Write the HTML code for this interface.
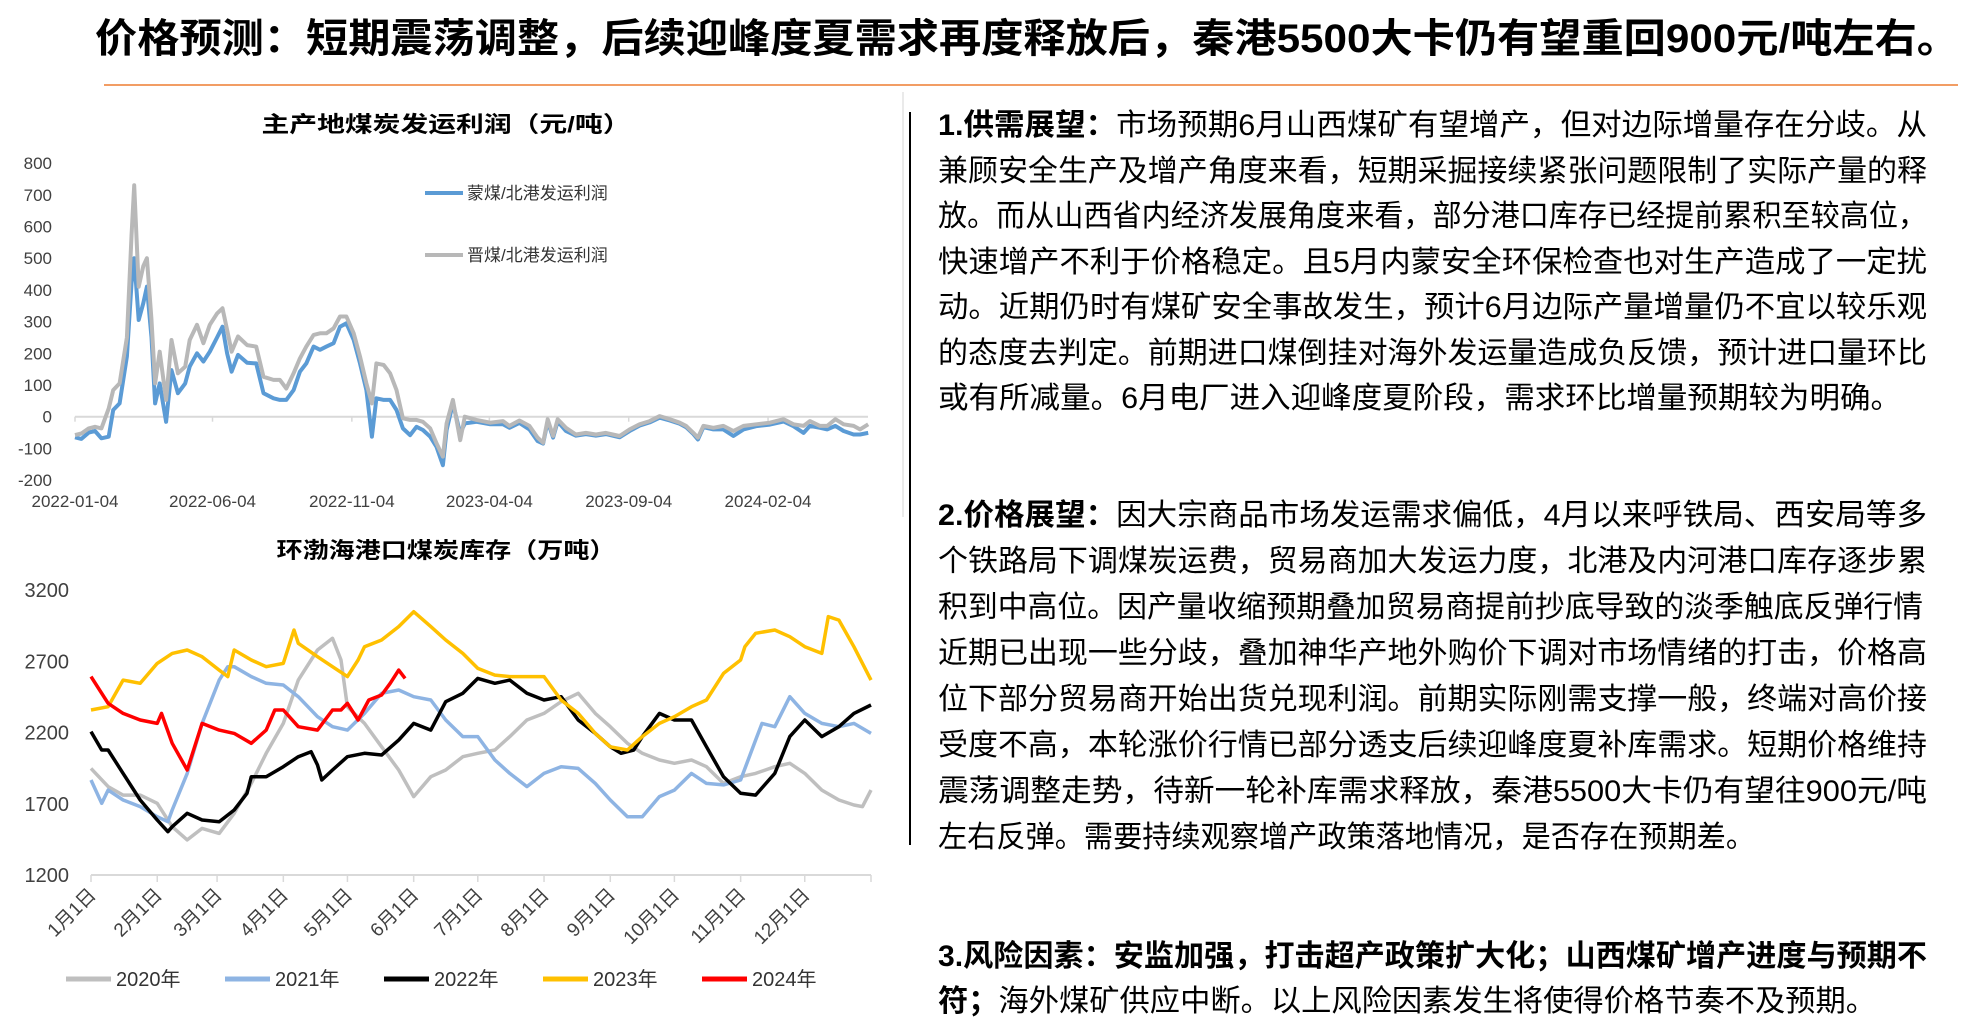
<!DOCTYPE html>
<html><head><meta charset="utf-8"><style>
html,body{margin:0;padding:0;background:#fff;}
svg{display:block;font-family:"Liberation Sans","Noto Sans CJK SC",sans-serif;}
.cn{font-family:"Liberation Sans","Noto Sans CJK SC",sans-serif;}
.nr{font-family:"Liberation Sans Narrow","Liberation Sans","Noto Sans CJK SC",sans-serif;}
</style></head><body>
<svg id="page" width="1971" height="1018" viewBox="0 0 1971 1018">
<text x="95" y="52" font-size="40" font-weight="bold" fill="#000" textLength="1864" lengthAdjust="spacingAndGlyphs">价格预测：短期震荡调整，后续迎峰度夏需求再度释放后，秦港5500大卡仍有望重回900元/吨左右。</text>
<line x1="104" y1="85" x2="1958" y2="85" stroke="#ed7d31" stroke-width="1.5"/>
<line x1="903" y1="92" x2="903" y2="517" stroke="#e3e3e3" stroke-width="1.5"/>
<line x1="910" y1="112" x2="910" y2="845" stroke="#000" stroke-width="2"/>

<g id="top-chart">
<text x="446" y="132" font-size="22" font-weight="bold" text-anchor="middle" textLength="369" lengthAdjust="spacingAndGlyphs">主产地煤炭发运利润（元/吨）</text>
<g id="top-yaxis"></g>
<g id="top-xaxis"></g>
<g id="top-lines"></g>
<g>
<line x1="425" y1="193" x2="463" y2="193" stroke="#5b9bd5" stroke-width="4"/>
<text x="467" y="199" font-size="17" fill="#333">蒙煤/北港发运利润</text>
<line x1="425" y1="255" x2="463" y2="255" stroke="#b8b8b8" stroke-width="4"/>
<text x="467" y="261" font-size="17" fill="#333">晋煤/北港发运利润</text>
</g>
</g>

<g id="bot-chart">
<text x="446" y="558" font-size="22" font-weight="bold" text-anchor="middle" textLength="339" lengthAdjust="spacingAndGlyphs">环渤海港口煤炭库存（万吨）</text>
<g id="bot-yaxis"></g>
<g id="bot-xaxis"></g>
<g id="bot-lines"></g>
<g id="bot-legend"></g>
</g>

<g font-size="30" fill="#000">
<text x="938" y="135" textLength="989" lengthAdjust="spacingAndGlyphs"><tspan font-weight="bold">1.供需展望：</tspan>市场预期6月山西煤矿有望增产，但对边际增量存在分歧。从</text>
<text x="938" y="181" textLength="989" lengthAdjust="spacingAndGlyphs">兼顾安全生产及增产角度来看，短期采掘接续紧张问题限制了实际产量的释</text>
<text x="938" y="226" textLength="989" lengthAdjust="spacingAndGlyphs">放。而从山西省内经济发展角度来看，部分港口库存已经提前累积至较高位，</text>
<text x="938" y="272" textLength="989" lengthAdjust="spacingAndGlyphs">快速增产不利于价格稳定。且5月内蒙安全环保检查也对生产造成了一定扰</text>
<text x="938" y="317" textLength="989" lengthAdjust="spacingAndGlyphs">动。近期仍时有煤矿安全事故发生，预计6月边际产量增量仍不宜以较乐观</text>
<text x="938" y="363" textLength="989" lengthAdjust="spacingAndGlyphs">的态度去判定。前期进口煤倒挂对海外发运量造成负反馈，预计进口量环比</text>
<text x="938" y="408" textLength="963" lengthAdjust="spacingAndGlyphs">或有所减量。6月电厂进入迎峰度夏阶段，需求环比增量预期较为明确。</text>

<text x="938" y="525" textLength="989" lengthAdjust="spacingAndGlyphs"><tspan font-weight="bold">2.价格展望：</tspan>因大宗商品市场发运需求偏低，4月以来呼铁局、西安局等多</text>
<text x="938" y="571" textLength="989" lengthAdjust="spacingAndGlyphs">个铁路局下调煤炭运费，贸易商加大发运力度，北港及内河港口库存逐步累</text>
<text x="938" y="617" textLength="985" lengthAdjust="spacingAndGlyphs">积到中高位。因产量收缩预期叠加贸易商提前抄底导致的淡季触底反弹行情</text>
<text x="938" y="663" textLength="989" lengthAdjust="spacingAndGlyphs">近期已出现一些分歧，叠加神华产地外购价下调对市场情绪的打击，价格高</text>
<text x="938" y="709" textLength="989" lengthAdjust="spacingAndGlyphs">位下部分贸易商开始出货兑现利润。前期实际刚需支撑一般，终端对高价接</text>
<text x="938" y="755" textLength="989" lengthAdjust="spacingAndGlyphs">受度不高，本轮涨价行情已部分透支后续迎峰度夏补库需求。短期价格维持</text>
<text x="938" y="801" textLength="989" lengthAdjust="spacingAndGlyphs">震荡调整走势，待新一轮补库需求释放，秦港5500大卡仍有望往900元/吨</text>
<text x="938" y="847" textLength="817" lengthAdjust="spacingAndGlyphs">左右反弹。需要持续观察增产政策落地情况，是否存在预期差。</text>

<text x="938" y="966" textLength="989" lengthAdjust="spacingAndGlyphs"><tspan font-weight="bold">3.风险因素：安监加强，打击超产政策扩大化；山西煤矿增产进度与预期不</tspan></text>
<text x="938" y="1011" textLength="938" lengthAdjust="spacingAndGlyphs"><tspan font-weight="bold">符；</tspan>海外煤矿供应中断。以上风险因素发生将使得价格节奏不及预期。</text>
</g>
</svg>
<script>
// ---------- Top chart data (days since 2022-01-04) ----------
const profitDays = [0,7,15,22,29,37,42,49,57,62,65,70,75,79,84,88,93,100,106,113,121,126,134,141,148,156,162,167,172,179,189,199,207,218,225,232,240,247,254,262,269,276,284,291,298,306,313,320,326,331,339,346,353,360,368,375,382,390,397,404,408,415,423,428,441,456,470,477,488,499,508,514,519,525,530,539,550,561,572,583,598,609,620,631,642,653,664,671,679,684,690,701,712,723,734,748,763,778,789,800,807,818,826,835,844,855,862,871];
const profitJin = [-58,-53,-37,-32,-37,26,84,105,250,570,730,410,475,500,305,105,205,53,242,137,158,242,290,232,290,326,342,274,205,253,226,221,126,116,116,89,137,184,221,258,263,263,279,316,316,263,190,105,42,168,163,137,84,-5,-10,-10,-16,-37,-84,-126,-21,53,-74,0,-10,-19,-14,-29,-12,-29,-66,-82,-8,-61,-8,-35,-56,-51,-56,-51,-61,-40,-24,-14,2,-8,-19,-29,-51,-66,-29,-35,-29,-45,-29,-24,-19,-8,-24,-29,-14,-29,-29,-8,-24,-29,-40,-24];
const profitMeng = [-65,-70,-50,-45,-68,-63,21,42,190,420,500,305,358,410,250,42,105,-16,147,74,105,158,200,174,205,250,284,200,142,195,170,168,74,58,53,53,84,142,168,221,211,221,232,284,295,242,168,84,-63,58,53,53,21,-37,-58,-32,-42,-63,-95,-153,-42,42,-53,-21,-16,-24,-24,-35,-20,-40,-77,-85,-15,-66,-15,-45,-60,-55,-60,-55,-65,-45,-28,-18,-3,-12,-22,-33,-55,-72,-33,-40,-40,-61,-40,-30,-25,-15,-30,-51,-29,-35,-40,-29,-45,-56,-56,-51];
const profitTicks = [800,700,600,500,400,300,200,100,0,-100,-200];
const profitDateLabels = ["2022-01-04","2022-06-04","2022-11-04","2023-04-04","2023-09-04","2024-02-04"];
const profitDateDays = [0,151,304,455,608,761];

// ---------- Bottom chart data (day of year) ----------
const invTicks = [3200,2700,2200,1700,1200];
const monthLabels = ["1月1日","2月1日","3月1日","4月1日","5月1日","6月1日","7月1日","8月1日","9月1日","10月1日","11月1日","12月1日"];
const monthDays = [0,31,59,90,120,151,181,212,243,273,304,334];
const seriesNames = ["2020年","2021年","2022年","2023年","2024年"];
const d2020 = [0,8,15,23,31,38,45,52,60,67,75,82,90,97,106,113,117,120,128,136,144,151,159,166,174,181,189,196,204,212,220,228,236,243,251,258,266,273,281,288,296,304,311,320,327,334,342,350,357,361,365];
const v2020 = [1948,1820,1761,1761,1703,1539,1446,1527,1492,1633,1843,2054,2264,2568,2779,2861,2709,2381,2264,2100,1937,1750,1890,1937,2030,2054,2077,2171,2288,2334,2416,2475,2334,2241,2124,2054,2007,1984,2007,1960,1843,1890,1913,1960,1984,1913,1796,1726,1691,1680,1796];
const d2021 = [0,5,8,15,23,31,36,38,45,52,60,64,67,75,82,90,97,106,113,120,128,136,144,151,159,166,174,181,189,196,204,212,220,228,236,243,251,258,266,273,281,288,296,304,311,314,320,327,334,342,350,357,365];
const v2021 = [1867,1703,1796,1726,1680,1609,1574,1656,1913,2264,2568,2662,2662,2592,2545,2533,2451,2311,2241,2217,2334,2475,2498,2451,2428,2288,2171,2171,2007,1913,1820,1913,1960,1948,1843,1726,1609,1609,1750,1796,1913,1843,1832,1867,2147,2264,2241,2451,2334,2264,2241,2264,2194];
const d2022 = [0,5,8,15,23,31,36,38,45,52,60,67,73,75,82,90,97,103,106,108,113,120,128,136,144,151,159,166,174,181,189,196,204,212,220,228,236,243,248,254,258,266,273,281,288,296,304,311,320,327,334,342,350,357,365];
const v2022 = [2206,2077,2077,1913,1726,1586,1504,1539,1633,1586,1574,1656,1773,1890,1890,1960,2030,2065,1972,1867,1937,2030,2054,2042,2147,2264,2217,2416,2475,2580,2545,2568,2475,2428,2451,2288,2194,2100,2054,2077,2171,2334,2288,2288,2100,1890,1773,1761,1913,2171,2288,2171,2241,2334,2393];
const d2023 = [0,8,15,23,31,38,45,52,60,64,67,75,82,90,95,97,106,113,120,125,128,136,144,151,159,166,174,181,189,196,204,212,220,228,236,243,251,258,266,273,281,288,296,304,306,311,320,327,334,342,345,350,357,365];
const v2023 = [2358,2381,2568,2545,2685,2755,2779,2732,2638,2592,2779,2709,2662,2685,2919,2826,2732,2662,2592,2709,2802,2849,2943,3048,2943,2849,2755,2650,2603,2592,2592,2592,2428,2334,2194,2100,2077,2171,2264,2311,2381,2428,2615,2709,2802,2896,2919,2872,2802,2755,3013,2989,2802,2568];
const d2024 = [0,5,8,15,23,31,33,38,45,52,60,67,75,82,86,90,97,106,113,117,120,125,130,136,140,144,147];
const v2024 = [2592,2475,2405,2334,2288,2264,2334,2124,1937,2264,2217,2194,2124,2217,2358,2358,2241,2217,2358,2358,2405,2288,2428,2463,2545,2638,2580];

const NS = "http://www.w3.org/2000/svg";
function mk(tag, attrs, parent){const e=document.createElementNS(NS,tag);for(const k in attrs)e.setAttribute(k,attrs[k]);parent.appendChild(e);return e;}

// Top axes
const tx = d => 75 + d*0.9107;
const ty = v => 416.7 - v*0.317;
const tY = document.getElementById('top-yaxis');
profitTicks.forEach(v=>{
  const t=mk('text',{x:52,y:ty(v)+6,'font-size':17,'text-anchor':'end',fill:'#404040',class:'nr'},tY);
  
  
  t.textContent=v;
});
const tX = document.getElementById('top-xaxis');
const zl=mk('line',{x1:75,y1:ty(0),x2:868,y2:ty(0),stroke:'#d9d9d9','stroke-width':2},tX);


profitDateDays.forEach((d,i)=>{
  const tk=mk('line',{x1:tx(d),y1:ty(0),x2:tx(d),y2:ty(0)+5,stroke:'#d9d9d9','stroke-width':1.5},tX);
  
  
  const t=mk('text',{x:tx(d),y:507,'font-size':17,'text-anchor':'middle',fill:'#404040',class:'nr'},tX);
  
  
  t.textContent=profitDateLabels[i];
});
function pathFrom(xs, vs, fx, fy){return xs.map((d,i)=>(i?'L':'M')+fx(d).toFixed(1)+','+fy(vs[i]).toFixed(1)).join('');}
const tL=document.getElementById('top-lines');
const pm=mk('path',{d:pathFrom(profitDays,profitMeng,tx,ty),fill:'none',stroke:'#5b9bd5','stroke-width':4,'stroke-linejoin':'round'},tL);


const pj=mk('path',{d:pathFrom(profitDays,profitJin,tx,ty),fill:'none',stroke:'#b8b8b8','stroke-width':4,'stroke-linejoin':'round'},tL);



// Bottom axes
const bx = d => 91 + d*780/365;
const by = v => 875 - (v-1200)*0.1425;
const bY=document.getElementById('bot-yaxis');
invTicks.forEach(v=>{
  const t=mk('text',{x:69,y:by(v)+7,'font-size':20,'text-anchor':'end',fill:'#404040',class:'nr'},bY);
  
  
  t.textContent=v;
});
const bX=document.getElementById('bot-xaxis');
const al=mk('line',{x1:91,y1:875,x2:871,y2:875,stroke:'#d9d9d9','stroke-width':2},bX);


monthDays.concat([365]).forEach(d=>{
  const tk=mk('line',{x1:bx(d),y1:875,x2:bx(d),y2:882,stroke:'#d9d9d9','stroke-width':1.5},bX);
  
  
});
monthDays.forEach((d,i)=>{
  const x=bx(d)+6, y=896;
  const t=mk('text',{x:x,y:y,'font-size':19,'text-anchor':'end',fill:'#404040',class:'nr',transform:`rotate(-45 ${x} ${y})`},bX);
  
  
  t.textContent=monthLabels[i];
});
const bL=document.getElementById('bot-lines');
const colors=['#bfbfbf','#8eb4e3','#000000','#ffc000','#ff0000'];
const allD=[d2020,d2021,d2022,d2023,d2024], allV=[v2020,v2021,v2022,v2023,v2024];
allD.forEach((ds,i)=>{
  const p=mk('path',{d:pathFrom(ds,allV[i],bx,by),fill:'none',stroke:colors[i],'stroke-width':3.5,'stroke-linejoin':'round'},bL);
  
  
});
const lg=document.getElementById('bot-legend');
seriesNames.forEach((n,i)=>{
  const x0=66+i*159;
  const ln=mk('line',{x1:x0,y1:979,x2:x0+45,y2:979,stroke:colors[i],'stroke-width':5},lg);
  
  
  const t=mk('text',{x:x0+50,y:986,'font-size':20,fill:'#333',class:'nr'},lg);
  
  
  t.textContent=n;
});
</script>
</body></html>
